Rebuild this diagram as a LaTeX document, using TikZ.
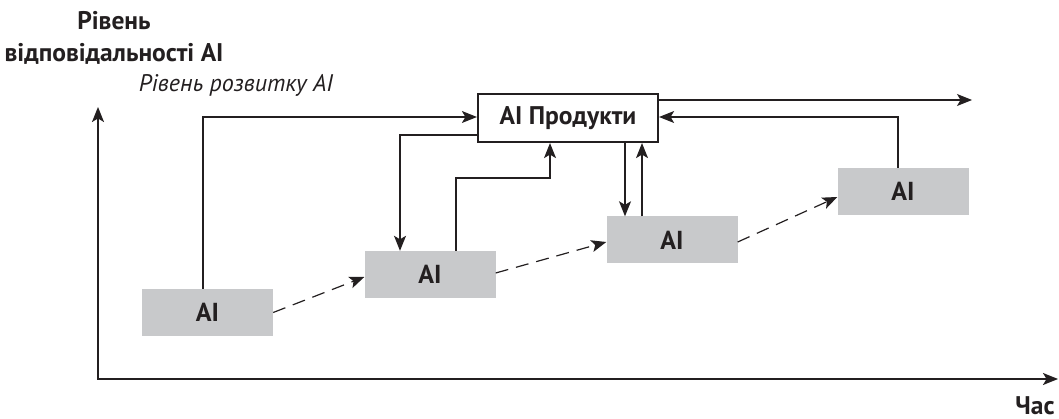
\documentclass[tikz,border=0pt]{standalone}
\usepackage{fontspec}
\setmainfont{PT Sans}
\usetikzlibrary{arrows.meta,calc}
\definecolor{ink}{HTML}{231F20}
\definecolor{boxgray}{HTML}{C8C9CB}
\begin{document}
\begin{tikzpicture}[x=1pt,y=-1pt,
  >={Stealth[length=15pt,width=12pt,inset=3.5pt]},
  aibox/.style={fill=boxgray,draw=none,minimum width=131pt,minimum height=47pt,inner sep=0pt,
    font=\fontsize{26}{28}\selectfont\bfseries,text=ink},
  prodbox/.style={draw=ink,line width=2.2pt,fill=white,minimum width=180pt,minimum height=48pt,inner sep=0pt,
    font=\fontsize{25.5}{28}\selectfont\bfseries,text=ink},
  conn/.style={draw=ink,line width=1.2pt,->},
  dconn/.style={draw=ink,line width=1.2pt,->,dash pattern=on 13pt off 8pt},
  axis/.style={draw=ink,line width=1.6pt},
  lbl/.style={anchor=base,inner sep=0pt,text=ink,font=\fontsize{25.5}{28}\selectfont\bfseries},
  ilbl/.style={anchor=base,inner sep=0pt,text=ink,font=\fontsize{24}{28}\selectfont\itshape}]
\useasboundingbox (0,0) rectangle (1059,419);

% axes
\coordinate (O) at (98,379);
\coordinate (ytop) at (98,107);
\coordinate (xend) at (1058,379);
\draw[axis,<->] (ytop) -- (O) -- (xend);

% labels
\node[lbl] (t1) at (114,30) {Рівень};
\node[lbl] (t2) at (114,62) {відповідальності AI};
\node[ilbl] (t3) at (236,92) {Рівень розвитку AI};
\node[lbl] (t4) at (1035,414) {Час};

% boxes
\node[prodbox] (p) at (568,118) {AI Продукти};
\node[aibox] (b1) at (207.5,312.5) {AI};
\node[aibox] (b2) at (430,274.5) {AI};
\node[aibox] (b3) at (672,240) {AI};
\node[aibox] (b4) at (903,191.5) {AI};

% connectors
\draw[conn] ([xshift=-4.5pt]b1.north) |- ([yshift=1pt]p.west);
\coordinate (c2) at ([xshift=-30pt]b2.north);
\draw[conn] ([yshift=-17pt]p.west) -| (c2);
\coordinate (c3) at ([xshift=-18pt]p.south);
\draw[conn] ([xshift=26pt]b2.north) |- ([yshift=-35pt]c3) -- (c3);
\coordinate (c4) at ([xshift=57pt]p.south);
\draw[conn] (c4) -- (c4 |- b3.north);
\coordinate (c5) at ([xshift=-30pt]b3.north);
\draw[conn] (c5) -- (c5 |- p.south);
\coordinate (c6) at ([yshift=18pt]p.east);
\coordinate (out) at (972,100);
\draw[conn] (c6) -- (out);
\coordinate (c7) at ([xshift=-5pt]b4.north);
\draw[conn] (c7) |- ([yshift=1pt]p.east);

% dashed progression
\draw[dconn] (b1.east) -- ([yshift=-2.5pt]b2.west);
\draw[dconn] ([yshift=1.5pt]b2.east) -- ([yshift=-2pt]b3.west);
\draw[dconn] ([yshift=-2pt]b3.east) -- ([yshift=-5.5pt]b4.west);
\end{tikzpicture}
\end{document}
